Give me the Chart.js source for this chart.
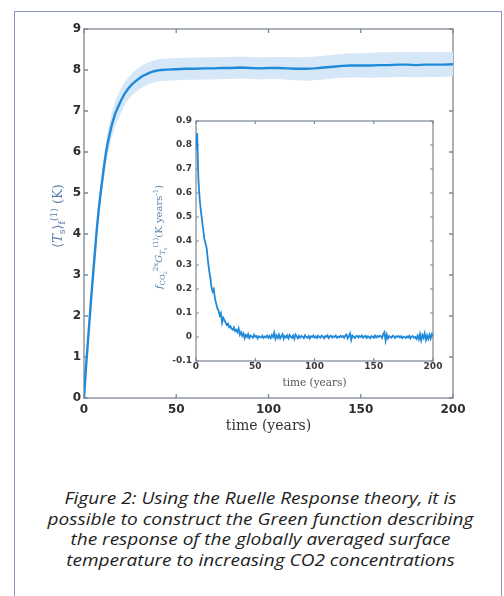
<!DOCTYPE html>
<html>
<head>
<meta charset="utf-8">
<script src="https://cdn.jsdelivr.net/npm/chart.js@4.4.0/dist/chart.umd.min.js"></script>
<style>
  body { margin: 0; width: 504px; height: 596px; overflow: hidden; background: #fff; position: relative; }
  #box { position: absolute; left: 14px; top: 11px; width: 486px; height: 640px; border: 1.5px solid #8a95c6; }
  canvas { position: absolute; }
  #mainChart { left: 0; top: 0; }
  #insetChart { left: 150px; top: 110px; }
  .ytitle { position: absolute; white-space: nowrap; transform: translate(-50%, -50%) rotate(-90deg); font-family: "DejaVu Serif", serif; color: #5a7fa8; }
  .ytitle sub, .ytitle sup { font-size: 0.7em; }
  #mainYTitle { left: 58px; top: 216px; font-size: 13px; }
  #insetYTitle { left: 160px; top: 237px; font-size: 10px; }
  #caption { position: absolute; left: 17px; width: 487px; top: 488px; text-align: center; font-family: "Open Sans", sans-serif; font-style: italic; font-size: 17px; line-height: 20.5px; color: #1e1e1e; transform: scaleX(1.12); }
</style>
</head>
<body>
<div id="box"></div>
<canvas id="mainChart" width="504" height="440"></canvas>
<canvas id="insetChart" width="300" height="290"></canvas>
<div id="mainYTitle" class="ytitle">⟨<i>T</i><sub>s</sub>⟩<sub>f</sub><sup>(1)</sup> (K)</div>
<div id="insetYTitle" class="ytitle"><i>f</i><sub>CO<sub>2</sub></sub><sup>2x</sup><i>G</i><sub><i>T</i><sub>s</sub></sub><sup>(1)</sup>(K years<sup>-1</sup>)</div>
<div id="caption">Figure 2: Using the Ruelle Response theory, it is<br>possible to construct the Green function describing<br>the response of the globally averaged surface<br>temperature to increasing CO2 concentrations</div>
<script>
// main plot: mean response and its spread (years / K)
const mainTime = [0, 1, 2, 3, 4, 5, 6, 7, 8, 9, 10, 11, 12, 13, 14, 15, 16, 17, 18,
  20, 22, 24, 26, 28, 30, 32, 34, 36, 38, 40, 42, 45,
  50, 55, 60, 65, 70, 75, 80, 85, 90, 95, 100, 105, 110, 115, 120, 125, 130, 135, 140,
  145, 150, 155, 160, 165, 170, 175, 180, 185, 190, 195, 200];
const mainMean = [0, 0.7, 1.3, 1.9, 2.5, 3.05, 3.6, 4.15, 4.6, 5.0, 5.35, 5.7, 6.0, 6.25, 6.45, 6.65, 6.8, 6.95, 7.05,
  7.25, 7.42, 7.55, 7.65, 7.73, 7.8, 7.86, 7.9, 7.94, 7.97, 7.99, 8.0, 8.01,
  8.02, 8.03, 8.03, 8.04, 8.04, 8.05, 8.05, 8.06, 8.05, 8.04, 8.05, 8.05, 8.04, 8.03, 8.03, 8.04, 8.06, 8.08, 8.1,
  8.11, 8.11, 8.11, 8.12, 8.12, 8.13, 8.13, 8.12, 8.13, 8.13, 8.13, 8.14];
const mainHigh = [0.05, 0.78, 1.4, 2.02, 2.64, 3.2, 3.78, 4.35, 4.82, 5.24, 5.6, 5.97, 6.28, 6.54, 6.75, 6.95, 7.1, 7.25, 7.36,
  7.55, 7.7, 7.82, 7.92, 8.0, 8.07, 8.13, 8.17, 8.21, 8.24, 8.26, 8.27, 8.28,
  8.29, 8.3, 8.3, 8.31, 8.31, 8.32, 8.32, 8.33, 8.32, 8.31, 8.32, 8.32, 8.32, 8.31, 8.31, 8.33, 8.35, 8.37, 8.39,
  8.41, 8.41, 8.42, 8.43, 8.43, 8.44, 8.44, 8.43, 8.44, 8.44, 8.44, 8.45];
const mainLow = [0, 0.62, 1.2, 1.78, 2.36, 2.9, 3.42, 3.95, 4.38, 4.76, 5.1, 5.43, 5.72, 5.96, 6.15, 6.35, 6.5, 6.65, 6.74,
  6.95, 7.14, 7.28, 7.38, 7.46, 7.53, 7.59, 7.63, 7.67, 7.7, 7.72, 7.73, 7.74,
  7.75, 7.76, 7.76, 7.77, 7.77, 7.78, 7.78, 7.79, 7.78, 7.77, 7.78, 7.78, 7.76, 7.75, 7.74, 7.75, 7.77, 7.79, 7.81,
  7.82, 7.82, 7.81, 7.82, 7.82, 7.83, 7.83, 7.82, 7.83, 7.83, 7.83, 7.84];
const mainXTicks = [0, 50, 100, 150, 200];
const mainYTicks = [0, 1, 2, 3, 4, 5, 6, 7, 8, 9];

// inset: Green function, one value per year from year 0 to 200
const insetGreen = [
  0.78, 0.85, 0.66, 0.58, 0.53, 0.49, 0.45, 0.41, 0.39, 0.37,
  0.32, 0.28, 0.25, 0.21, 0.19, 0.2, 0.16, 0.14, 0.12, 0.11,
  0.09, 0.1, 0.06, 0.08, 0.07, 0.06, 0.05, 0.055, 0.04, 0.045,
  0.035, 0.03, 0.04, 0.025, 0.03, 0.02, 0.035, 0.01, 0.02, 0.005, 0.015,
  -0.005, 0.008, 0.0, 0.012, -0.004, 0.006, 0.002, -0.003, 0.009, 0.001,
  0.004, -0.006, 0.003, 0.0, -0.002, 0.005, -0.004, 0.002, -0.001, 0.006,
  -0.003, 0.004, -0.005, 0.008, 0.0, 0.018, -0.008, 0.006, -0.004, 0.01,
  -0.006, 0.003, 0.012, -0.007, 0.004, -0.002, 0.007, -0.005, 0.009, 0.0,
  -0.004, 0.006, -0.008, 0.01, 0.002, -0.006, 0.005, -0.003, 0.004, 0.001,
  -0.005, 0.007, 0.0, -0.003, 0.004, -0.006, 0.003, 0.0, 0.006, -0.002,
  0.003, -0.004, 0.005, 0.0, -0.003, 0.006, 0.002, -0.005, 0.004, 0.0,
  0.007, -0.004, 0.002, 0.005, -0.002, 0.003, 0.0, 0.006, -0.003, 0.002,
  -0.001, 0.005, 0.0, 0.004, -0.003, 0.006, 0.01, -0.006, 0.004, 0.015,
  -0.012, 0.006, 0.002, -0.004, 0.003, 0.005, -0.002, 0.004, 0.0, 0.006,
  -0.003, 0.002, 0.005, -0.004, 0.003, 0.0, -0.005, 0.004, 0.002, -0.003,
  0.006, -0.002, 0.004, 0.0, 0.005, 0.003, -0.004, 0.012, 0.02, -0.015,
  0.01, -0.006, 0.004, 0.0, -0.003, 0.005, 0.002, -0.004, 0.003, 0.0,
  0.004, -0.002, 0.003, -0.005, 0.002, 0.0, -0.004, 0.003, -0.002, 0.005,
  -0.006, 0.002, 0.004, -0.003, 0.0, -0.008, 0.005, -0.01, 0.012, -0.014,
  0.008, -0.004, 0.015, -0.012, 0.006, -0.008, 0.01, -0.006, 0.012, 0.004
];
const insetXTicks = [0, 50, 100, 150, 200];
const insetYTicks = [-0.1, 0, 0.1, 0.2, 0.3, 0.4, 0.5, 0.6, 0.7, 0.8, 0.9];

const lineBlue = '#2089d8';
const bandBlue = '#d6e8f7';

// matlab style box with inward ticks on all four sides
const framePlugin = {
  id: 'frame',
  beforeDatasetsDraw(chart, args, opts) {
    const { ctx, chartArea: a, scales: { x, y } } = chart;
    ctx.save();
    ctx.strokeStyle = opts.color;
    ctx.lineWidth = opts.width;
    ctx.strokeRect(a.left, a.top, a.right - a.left, a.bottom - a.top);
    ctx.beginPath();
    x.ticks.forEach(t => {
      const px = x.getPixelForValue(t.value);
      ctx.moveTo(px, a.bottom); ctx.lineTo(px, a.bottom - opts.tick);
      ctx.moveTo(px, a.top); ctx.lineTo(px, a.top + opts.tick);
    });
    y.ticks.forEach(t => {
      const py = y.getPixelForValue(t.value);
      ctx.moveTo(a.left, py); ctx.lineTo(a.left + opts.tick, py);
      ctx.moveTo(a.right, py); ctx.lineTo(a.right - opts.tick, py);
    });
    ctx.stroke();
    ctx.restore();
  }
};

const toPoints = (xs, ys) => ys.map((v, i) => ({ x: xs[i], y: v }));

// chart.js paints dataset 0 last, so the mean line goes first to stay on top of the band
new Chart(document.getElementById('mainChart'), {
  type: 'line',
  data: {
    datasets: [
      { data: toPoints(mainTime, mainMean), borderColor: lineBlue, borderWidth: 2.4, pointRadius: 0, fill: false },
      { data: toPoints(mainTime, mainHigh), borderWidth: 0, borderColor: 'transparent', pointRadius: 0, backgroundColor: bandBlue, fill: '+1' },
      { data: toPoints(mainTime, mainLow), borderWidth: 0, borderColor: 'transparent', pointRadius: 0, fill: false }
    ]
  },
  options: {
    responsive: false,
    animation: false,
    layout: { padding: { left: 0, top: 29, right: 51, bottom: 0 } },
    plugins: {
      legend: { display: false },
      tooltip: { enabled: false },
      frame: { color: '#7d8794', width: 1.3, tick: 4 }
    },
    scales: {
      x: {
        type: 'linear', min: 0, max: 200,
        afterBuildTicks: s => { s.ticks = mainXTicks.map(v => ({ value: v })); },
        afterFit: s => { s.height = 42; },
        grid: { display: false, drawTicks: false },
        border: { display: false },
        ticks: { padding: 5, color: '#2e2e2e', font: { family: 'DejaVu Sans', weight: 'bold', size: 12 } },
        title: { display: true, text: 'time (years)', color: '#333', padding: { top: 0, bottom: 5 }, font: { family: 'DejaVu Serif', size: 14 } }
      },
      y: {
        min: 0, max: 9,
        afterBuildTicks: s => { s.ticks = mainYTicks.map(v => ({ value: v })); },
        afterFit: s => { s.width = 84; },
        grid: { display: false, drawTicks: false },
        border: { display: false },
        ticks: { padding: 3, color: '#2e2e2e', font: { family: 'DejaVu Sans', weight: 'bold', size: 12 } }
      }
    }
  },
  plugins: [framePlugin]
});

new Chart(document.getElementById('insetChart'), {
  type: 'line',
  data: {
    datasets: [
      { data: insetGreen.map((v, year) => ({ x: year, y: v })), borderColor: lineBlue, borderWidth: 1.8, pointRadius: 0, fill: false }
    ]
  },
  options: {
    responsive: false,
    animation: false,
    layout: { padding: { left: 0, top: 11, right: 17, bottom: 0 } },
    plugins: {
      legend: { display: false },
      tooltip: { enabled: false },
      frame: { color: '#7d8794', width: 1.2, tick: 3 }
    },
    scales: {
      x: {
        type: 'linear', min: 0, max: 200,
        afterBuildTicks: s => { s.ticks = insetXTicks.map(v => ({ value: v })); },
        afterFit: s => { s.height = 39; },
        grid: { display: false, drawTicks: false },
        border: { display: false },
        ticks: { padding: 0, color: '#3a3a3a', font: { family: 'DejaVu Sans', weight: 'bold', size: 9 } },
        title: { display: true, text: 'time (years)', color: '#555', padding: { top: 0, bottom: 10 }, font: { family: 'DejaVu Serif', size: 10.5 } }
      },
      y: {
        min: -0.1, max: 0.9,
        afterBuildTicks: s => { s.ticks = insetYTicks.map(v => ({ value: v })); },
        afterFit: s => { s.width = 46; },
        grid: { display: false, drawTicks: false },
        border: { display: false },
        ticks: {
          padding: 4, color: '#3a3a3a', font: { family: 'DejaVu Sans', weight: 'bold', size: 9 },
          callback: v => v === 0 ? '0' : v.toFixed(1)
        }
      }
    }
  },
  plugins: [framePlugin]
});
</script>
</body>
</html>
